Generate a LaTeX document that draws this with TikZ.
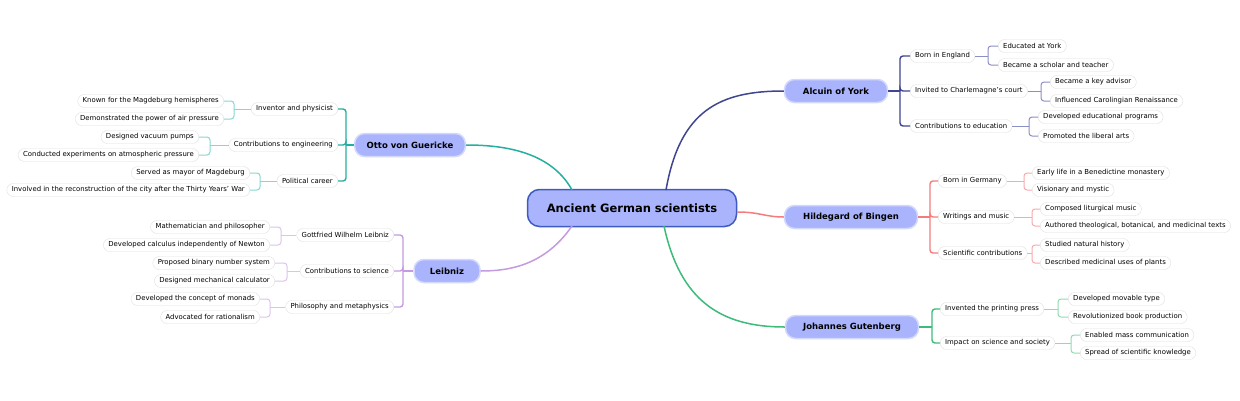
\documentclass[tikz,border=0pt]{standalone}
\usepackage{fontspec}
\setmainfont{DejaVu Sans}
\definecolor{cA}{HTML}{3F4590}
\definecolor{cAl}{HTML}{8A8FC6}
\definecolor{cH}{HTML}{F47C7C}
\definecolor{cHl}{HTML}{F8AAAA}
\definecolor{cG}{HTML}{3DBB7A}
\definecolor{cGl}{HTML}{8FDBB2}
\definecolor{cO}{HTML}{26AFA0}
\definecolor{cOl}{HTML}{86D8CF}
\definecolor{cL}{HTML}{C39BE0}
\definecolor{cLl}{HTML}{DCC3EE}
\definecolor{nfill}{HTML}{A9B4FC}
\definecolor{rborder}{HTML}{3F5BBF}
\definecolor{bborder}{HTML}{D3D8FD}
\begin{document}
\begin{tikzpicture}[x=1pt,y=-1pt,
  root/.style={draw=rborder,line width=1.5pt,fill=nfill,rounded corners=12pt,minimum width=209pt,minimum height=37pt,font=\fontsize{11.5}{13}\selectfont\bfseries},
  branch/.style={draw=bborder,line width=1.5pt,fill=nfill,rounded corners=10pt,minimum height=23pt,inner xsep=12pt,font=\fontsize{8.5}{10}\selectfont\bfseries},
  leaf/.style={draw=black!12,fill=white,rounded corners=6.5pt,minimum height=13pt,inner ysep=1pt,inner xsep=5pt,font=\fontsize{6.9}{7.5}\selectfont},
  L1/.style={line width=1.4pt,rounded corners=3pt},
  L2/.style={line width=1pt,rounded corners=3pt}]
\useasboundingbox (0,0) rectangle (1240,400);
\node[root] (root) at (632,208) {Ancient German scientists};
\node[branch,minimum width=103pt] (A) at (836,91) {Alcuin of York};
\node[branch,minimum width=133pt] (H) at (851,217) {Hildegard of Bingen};
\node[branch,minimum width=133pt] (G) at (852,327) {Johannes Gutenberg};
\node[branch,minimum width=110pt] (O) at (410,145) {Otto von Guericke};
\node[branch,minimum width=66pt] (Lb) at (447,271) {Leibniz};
% main connectors
\draw[cA,line width=1.5pt] (666,190) .. controls (680,110) and (720,91) .. (A.west);
\draw[cH,line width=1.5pt] (root.east|-0,212) .. controls (760,212) and (765,217) .. (H.west);
\draw[cG,line width=1.5pt] (664,226) .. controls (680,300) and (720,327) .. (G.west);
\draw[cO,line width=1.5pt] (572,190) .. controls (550,150) and (500,145) .. (O.east);
\draw[cL,line width=1.5pt] (572,226) .. controls (545,265) and (510,271) .. (Lb.east);
% Alcuin
\node[leaf,anchor=west] (a1) at (910,56) {Born in England};
\node[leaf,anchor=west] (a2) at (910,91) {Invited to Charlemagne's court};
\node[leaf,anchor=west] (a3) at (910,126) {Contributions to education};
\coordinate (ab) at (900,91);
\draw[cA,L1] (A.east) -- (ab);
\foreach \c in {a1,a2,a3} \draw[cA,L1] (ab) |- (\c.west);
\node[leaf,anchor=west] (a11) at (998,46) {Educated at York};
\node[leaf,anchor=west] (a12) at (998,65) {Became a scholar and teacher};
\node[leaf,anchor=west] (a21) at (1050,82) {Became a key advisor};
\node[leaf,anchor=west] (a22) at (1050,101) {Influenced Carolingian Renaissance};
\node[leaf,anchor=west] (a31) at (1038,117) {Developed educational programs};
\node[leaf,anchor=west] (a32) at (1038,136) {Promoted the liberal arts};
\coordinate (ab1) at (988,56); \coordinate (ab2) at (1041,91); \coordinate (ab3) at (1029,126);
\draw[cAl,L2] (a1.east) -- (ab1); \draw[cAl,L2] (ab1) |- (a11.west); \draw[cAl,L2] (ab1) |- (a12.west);
\draw[cAl,L2] (a2.east) -- (ab2); \draw[cAl,L2] (ab2) |- (a21.west); \draw[cAl,L2] (ab2) |- (a22.west);
\draw[cAl,L2] (a3.east) -- (ab3); \draw[cAl,L2] (ab3) |- (a31.west); \draw[cAl,L2] (ab3) |- (a32.west);
% Hildegard
\node[leaf,anchor=west] (h1) at (938,181) {Born in Germany};
\node[leaf,anchor=west] (h2) at (938,217) {Writings and music};
\node[leaf,anchor=west] (h3) at (938,253) {Scientific contributions};
\coordinate (hb) at (930,217);
\draw[cH,L1] (H.east) -- (hb);
\foreach \c in {h1,h2,h3} \draw[cH,L1] (hb) |- (\c.west);
\node[leaf,anchor=west] (h11) at (1032,173) {Early life in a Benedictine monastery};
\node[leaf,anchor=west] (h12) at (1032,190) {Visionary and mystic};
\node[leaf,anchor=west] (h21) at (1040,209) {Composed liturgical music};
\node[leaf,anchor=west] (h22) at (1040,226) {Authored theological, botanical, and medicinal texts};
\node[leaf,anchor=west] (h31) at (1040,245) {Studied natural history};
\node[leaf,anchor=west] (h32) at (1040,263) {Described medicinal uses of plants};
\coordinate (hb1) at (1024,181); \coordinate (hb2) at (1032,217); \coordinate (hb3) at (1032,253);
\draw[cHl,L2] (h1.east) -- (hb1); \draw[cHl,L2] (hb1) |- (h11.west); \draw[cHl,L2] (hb1) |- (h12.west);
\draw[cHl,L2] (h2.east) -- (hb2); \draw[cHl,L2] (hb2) |- (h21.west); \draw[cHl,L2] (hb2) |- (h22.west);
\draw[cHl,L2] (h3.east) -- (hb3); \draw[cHl,L2] (hb3) |- (h31.west); \draw[cHl,L2] (hb3) |- (h32.west);
% Gutenberg
\node[leaf,anchor=west] (g1) at (940,309) {Invented the printing press};
\node[leaf,anchor=west] (g2) at (940,343) {Impact on science and society};
\coordinate (gb) at (932,327);
\draw[cG,L1] (G.east) -- (gb);
\foreach \c in {g1,g2} \draw[cG,L1] (gb) |- (\c.west);
\node[leaf,anchor=west] (g11) at (1068,299) {Developed movable type};
\node[leaf,anchor=west] (g12) at (1068,317) {Revolutionized book production};
\node[leaf,anchor=west] (g21) at (1080,335) {Enabled mass communication};
\node[leaf,anchor=west] (g22) at (1080,353) {Spread of scientific knowledge};
\coordinate (gb1) at (1058,309); \coordinate (gb2) at (1071,343);
\draw[cGl,L2] (g1.east) -- (gb1); \draw[cGl,L2] (gb1) |- (g11.west); \draw[cGl,L2] (gb1) |- (g12.west);
\draw[cGl,L2] (g2.east) -- (gb2); \draw[cGl,L2] (gb2) |- (g21.west); \draw[cGl,L2] (gb2) |- (g22.west);
% Otto
\node[leaf,anchor=east] (o1) at (338,109) {Inventor and physicist};
\node[leaf,anchor=east] (o2) at (338,145) {Contributions to engineering};
\node[leaf,anchor=east] (o3) at (338,181) {Political career};
\coordinate (ob) at (346,145);
\draw[cO,L1] (O.west) -- (ob);
\foreach \c in {o1,o2,o3} \draw[cO,L1] (ob) |- (\c.east);
\node[leaf,anchor=east] (o11) at (224,101) {Known for the Magdeburg hemispheres};
\node[leaf,anchor=east] (o12) at (224,119) {Demonstrated the power of air pressure};
\node[leaf,anchor=east] (o21) at (199,137) {Designed vacuum pumps};
\node[leaf,anchor=east] (o22) at (199,155) {Conducted experiments on atmospheric pressure};
\node[leaf,anchor=east] (o31) at (250,173) {Served as mayor of Magdeburg};
\node[leaf,anchor=east] (o32) at (250,190) {Involved in the reconstruction of the city after the Thirty Years' War};
\coordinate (ob1) at (234,109); \coordinate (ob2) at (210,145); \coordinate (ob3) at (260,181);
\draw[cOl,L2] (o1.west) -- (ob1); \draw[cOl,L2] (ob1) |- (o11.east); \draw[cOl,L2] (ob1) |- (o12.east);
\draw[cOl,L2] (o2.west) -- (ob2); \draw[cOl,L2] (ob2) |- (o21.east); \draw[cOl,L2] (ob2) |- (o22.east);
\draw[cOl,L2] (o3.west) -- (ob3); \draw[cOl,L2] (ob3) |- (o31.east); \draw[cOl,L2] (ob3) |- (o32.east);
% Leibniz
\node[leaf,anchor=east] (l1) at (394,235) {Gottfried Wilhelm Leibniz};
\node[leaf,anchor=east] (l2) at (394,271) {Contributions to science};
\node[leaf,anchor=east] (l3) at (394,307) {Philosophy and metaphysics};
\coordinate (lb) at (403,271);
\draw[cL,L1] (Lb.west) -- (lb);
\foreach \c in {l1,l2,l3} \draw[cL,L1] (lb) |- (\c.east);
\node[leaf,anchor=east] (l11) at (270,227) {Mathematician and philosopher};
\node[leaf,anchor=east] (l12) at (270,245) {Developed calculus independently of Newton};
\node[leaf,anchor=east] (l21) at (275,263) {Proposed binary number system};
\node[leaf,anchor=east] (l22) at (275,281) {Designed mechanical calculator};
\node[leaf,anchor=east] (l31) at (260,299) {Developed the concept of monads};
\node[leaf,anchor=east] (l32) at (260,317) {Advocated for rationalism};
\coordinate (lb1) at (281,235); \coordinate (lb2) at (287,271); \coordinate (lb3) at (270,307);
\draw[cLl,L2] (l1.west) -- (lb1); \draw[cLl,L2] (lb1) |- (l11.east); \draw[cLl,L2] (lb1) |- (l12.east);
\draw[cLl,L2] (l2.west) -- (lb2); \draw[cLl,L2] (lb2) |- (l21.east); \draw[cLl,L2] (lb2) |- (l22.east);
\draw[cLl,L2] (l3.west) -- (lb3); \draw[cLl,L2] (lb3) |- (l31.east); \draw[cLl,L2] (lb3) |- (l32.east);
\end{tikzpicture}
\end{document}
